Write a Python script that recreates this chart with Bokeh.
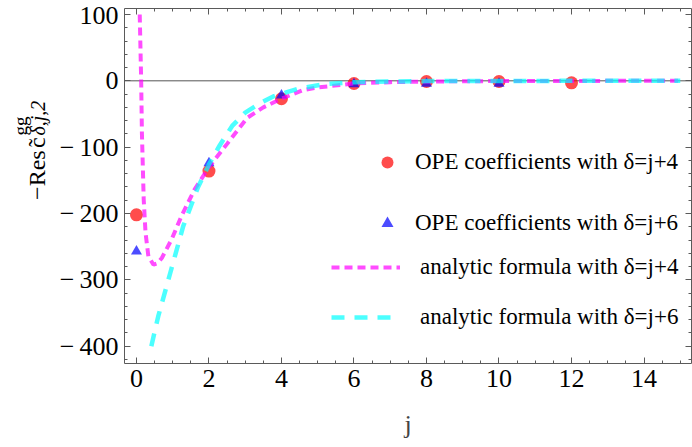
from math import pi
from bokeh.plotting import figure
from bokeh.layouts import row
from bokeh.models import (Range1d, LinearAxis, Legend, LegendItem, Span,
                          CustomJSTickFormatter, SingleIntervalTicker)
from bokeh.core.properties import value
from bokeh.embed import file_html
from bokeh.resources import INLINE

# ---- data ----
j_ope4 = [0, 2, 4, 6, 8, 10, 12]
res_ope4 = [-202, -136, -27, -4, -1, -1, -3]
j_ope6 = [0, 2, 4, 6, 8, 10]
res_ope6 = [-257, -124, -22, -5, -4, -4]

j_ana4 = [0.09, 0.13, 0.15, 0.2, 0.25, 0.33, 0.47, 0.58, 0.7, 0.97, 1.24, 1.6, 2.0,
          2.5, 3.05, 3.5, 4.0, 4.6, 5.0, 6.0, 7.0, 8.0, 10.0, 12.0, 15.0]
res_ana4 = [100, 0, -78, -179, -229, -265, -277, -275, -267, -239, -204, -164, -130,
            -95, -56, -40, -27, -14, -10, -4, -2, -1, -0.3, -0.1, 0]

j_ana6 = [0.41, 0.6, 0.93, 1.29, 1.7, 2.0, 2.3, 2.64, 3.0, 3.4, 3.8, 4.45, 5.2,
          6.0, 7.0, 8.0, 10.0, 15.0]
res_ana6 = [-400, -355, -290, -219, -160, -126, -97, -68, -48, -34, -23, -12, -5,
            -2, -1, -0.4, -0.1, 0]

labels = ["OPE coefficients with δ=j+4", "OPE coefficients with δ=j+6",
          "analytic formula with δ=j+4", "analytic formula with δ=j+6"]
ylabel_res = "\u2212Res"
ylabel_c = "c"
ylabel_tilde = "\u02dc"
ylabel_sup = "gg"
ylabel_sub = "δ,j,2"

FONT = "Liberation Serif"
AX = "#5a5a5a"
LEFT_W = 56

# ---- narrow panel that carries the rotated y-axis title ----
pl = figure(width=LEFT_W, height=447, output_backend="svg", toolbar_location=None,
            x_range=Range1d(0, LEFT_W), y_range=Range1d(447, 0),
            x_axis_location=None, y_axis_location=None,
            min_border_left=0, min_border_right=0, min_border_top=0,
            min_border_bottom=0)
pl.grid.visible = False
pl.outline_line_color = None


def ytxt(x, y, t, size, align="left", style="normal"):
    pl.text(x=[x], y=[y], text=[t], angle=pi / 2, text_font=value(FONT),
            text_font_size=size, text_font_style=style, text_baseline="alphabetic",
            text_align=align, text_color="black")


ytxt(36, 241, ylabel_res, "24px")
ytxt(36, 169, ylabel_c, "24px", align="center")
ytxt(36, 169, ylabel_tilde, "24px", align="center")
ytxt(20, 160, ylabel_sup, "19px")
ytxt(37, 160, ylabel_sub, "20px", style="italic")

# ---- main plot ----
p = figure(width=692 - LEFT_W, height=447, output_backend="svg", toolbar_location=None,
           x_range=Range1d(-0.33, 15.31), y_range=Range1d(-426, 109),
           min_border_left=116 - LEFT_W, min_border_right=1, min_border_top=8,
           min_border_bottom=84)
p.grid.visible = False
p.outline_line_color = None
p.background_fill_color = "white"
p.border_fill_color = "white"

p.add_layout(Span(location=0, dimension="width", line_color="#555555",
                  line_width=1, level="underlay"))

r_c = p.scatter(j_ope4, res_ope4, marker="circle", size=13, fill_color="#ff0000",
                fill_alpha=0.7, line_color=None)
r_t = p.scatter(j_ope6, res_ope6, marker="triangle", size=11, fill_color="#0000ff",
                fill_alpha=0.7, line_color=None)
r_m = p.line(j_ana4, res_ana4, line_color="#ff00ff", line_alpha=0.7, line_width=4,
             line_dash="8 5")
r_y = p.line(j_ana6, res_ana6, line_color="#00ffff", line_alpha=0.7, line_width=4.5,
             line_dash="13 10")

fmt = CustomJSTickFormatter(
    code="return tick < 0 ? '\u2212\u2009' + Math.abs(tick) : String(tick);")


def style_axis(ax, labels_on):
    ax.axis_line_color = AX
    ax.major_tick_line_color = AX
    ax.minor_tick_line_color = AX
    ax.major_tick_in = 6
    ax.major_tick_out = 0
    ax.minor_tick_in = 3
    ax.minor_tick_out = 0
    ax.major_label_text_font = FONT
    ax.major_label_text_color = "black"
    if labels_on:
        ax.major_label_text_font_size = "26px"
    else:
        ax.major_label_text_font_size = "0px"
        ax.major_label_standoff = 0


p.xaxis.ticker = SingleIntervalTicker(interval=2, num_minor_ticks=4)
p.yaxis.ticker = SingleIntervalTicker(interval=100, num_minor_ticks=5)
p.yaxis.formatter = fmt
style_axis(p.xaxis[0], True)
style_axis(p.yaxis[0], True)
p.xaxis.major_label_standoff = 6
p.yaxis.major_label_standoff = 6
p.xaxis.axis_label = "j"
p.xaxis.axis_label_text_font = FONT
p.xaxis.axis_label_text_font_style = "normal"
p.xaxis.axis_label_text_font_size = "26px"
p.xaxis.axis_label_standoff = 20

top = LinearAxis(ticker=SingleIntervalTicker(interval=2, num_minor_ticks=4))
style_axis(top, False)
p.add_layout(top, "above")
right = LinearAxis(ticker=SingleIntervalTicker(interval=100, num_minor_ticks=5))
style_axis(right, False)
p.add_layout(right, "right")

leg1 = Legend(items=[LegendItem(label=labels[0], renderers=[r_c]),
                     LegendItem(label=labels[1], renderers=[r_t])],
              location=(248, 125), glyph_width=30, glyph_height=30, label_height=30,
              spacing=31, padding=0, margin=0, label_standoff=13,
              border_line_color=None, background_fill_alpha=0,
              label_text_font=FONT, label_text_font_size="23px",
              label_text_color="black")
leg2 = Legend(items=[LegendItem(label=labels[2], renderers=[r_m]),
                     LegendItem(label=labels[3], renderers=[r_y])],
              location=(207, 33), glyph_width=69, glyph_height=26, label_height=26,
              spacing=24, padding=0, margin=0, label_standoff=20,
              border_line_color=None, background_fill_alpha=0,
              label_text_font=FONT, label_text_font_size="23px",
              label_text_color="black")
p.add_layout(leg1, "center")
p.add_layout(leg2, "center")

layout = row(pl, p, spacing=0)
open("out.html", "w").write(file_html(layout, INLINE))
